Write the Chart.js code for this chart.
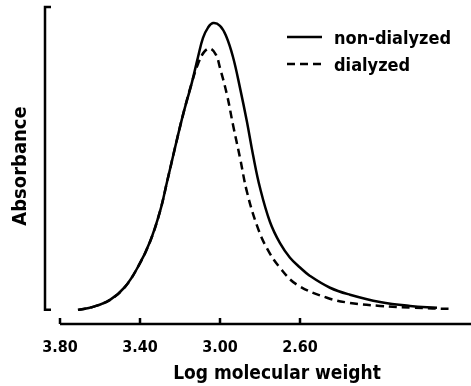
<!DOCTYPE html>
<html>
<head>
<meta charset="utf-8">
<script src="https://cdn.jsdelivr.net/npm/chart.js@4"></script>
<style>
  html, body { margin: 0; padding: 0; background: #fff; }
  #wrap { width: 471px; height: 386px; }
</style>
</head>
<body>
<div id="wrap"><canvas id="grafico"></canvas></div>
<script>
// datos (log peso molecular vs absorbancia relativa)
const logMW_noDial = [3.71, 3.635, 3.55, 3.475, 3.41, 3.35, 3.30, 3.265, 3.225, 3.185, 3.14, 3.11, 3.085, 3.06, 3.035, 3.00, 2.97, 2.935, 2.90, 2.865, 2.835, 2.80, 2.75, 2.70, 2.65, 2.60, 2.55, 2.45, 2.35, 2.20, 2.05, 1.915];
const abs_noDial   = [0, 1.0, 3.3, 7.6, 14.2, 22.5, 32.5, 42.2, 53.5, 64.4, 75.2, 83.5, 89.8, 93.2, 94.7, 93.8, 90.5, 83.5, 73.3, 62.0, 51.2, 40.3, 29.0, 22.0, 17.2, 14.0, 11.2, 7.3, 5.0, 2.6, 1.3, 0.7];

const logMW_dial = [3.71, 3.635, 3.55, 3.475, 3.41, 3.35, 3.30, 3.265, 3.225, 3.185, 3.14, 3.11, 3.08, 3.05, 3.02, 3.00, 2.965, 2.935, 2.90, 2.865, 2.815, 2.765, 2.70, 2.615, 2.465, 2.35, 2.20, 2.035, 1.84];
const abs_dial   = [0, 1.0, 3.3, 7.6, 14.2, 22.5, 32.5, 42.2, 53.5, 64.4, 75.2, 81.2, 85.1, 86.3, 84.2, 79.9, 71.0, 61.1, 50.2, 38.9, 27.8, 20.3, 13.9, 8.3, 4.0, 2.3, 1.3, 0.7, 0.3];

const tickLabels = [3.80, 3.40, 3.00, 2.60];
const etiquetas = ["non-dialyzed", "dialyzed"];

const FUENTE = "'DejaVu Sans Condensed', 'DejaVu Sans', sans-serif";

function pares(xs, ys) {
    return xs.map((x, i) => ({ x: x, y: ys[i] }));
}

// ejes dibujados a mano (estilo de la figura original)
const ejesPlugin = {
    id: 'ejes',
    afterDatasetsDraw(chart) {
        const { ctx, chartArea, scales } = chart;
        const xs = scales.x, ys = scales.y;
        ctx.save();
        ctx.strokeStyle = '#000';
        ctx.lineWidth = 2.5;
        ctx.lineCap = 'butt';

        // eje Y con pequeños remates, algo separado del eje X
        const xL = xs.getPixelForValue(3.875);
        const yTop = ys.getPixelForValue(100);
        const y0 = ys.getPixelForValue(0);
        ctx.beginPath();
        ctx.moveTo(xL + 6, yTop);
        ctx.lineTo(xL, yTop);
        ctx.lineTo(xL, y0);
        ctx.lineTo(xL + 6, y0);
        ctx.stroke();

        // eje X con marcas hacia arriba
        const yB = chartArea.bottom - 1;
        const xStart = xs.getPixelForValue(tickLabels[0]);
        ctx.beginPath();
        ctx.moveTo(xStart, yB);
        ctx.lineTo(chartArea.right, yB);
        ctx.stroke();
        ctx.beginPath();
        tickLabels.forEach(v => {
            const px = xs.getPixelForValue(v);
            ctx.moveTo(px, yB);
            ctx.lineTo(px, yB - 6);
        });
        ctx.stroke();

        // leyenda
        chart.data.datasets.forEach((ds, i) => {
            const ly = 37 + i * 27;
            ctx.setLineDash(ds.borderDash || []);
            ctx.beginPath();
            ctx.moveTo(287, ly);
            ctx.lineTo(322, ly);
            ctx.stroke();
            ctx.setLineDash([]);
            ctx.fillStyle = '#000';
            ctx.font = 'bold 18px ' + FUENTE;
            ctx.textBaseline = 'alphabetic';
            ctx.fillText(ds.label, 334, ly + 7);
        });
        ctx.restore();
    }
};

const ctx = document.getElementById('grafico').getContext('2d');

new Chart(ctx, {
    type: 'line',
    data: {
        datasets: [{
            label: etiquetas[0],
            data: pares(logMW_noDial, abs_noDial),
            borderColor: '#000',
            borderWidth: 2.5,
            pointRadius: 0,
            tension: 0.4,
            fill: false,
            clip: false
        }, {
            label: etiquetas[1],
            data: pares(logMW_dial, abs_dial),
            borderColor: '#000',
            borderWidth: 2.5,
            borderDash: [8, 5],
            pointRadius: 0,
            tension: 0.4,
            fill: false,
            clip: false
        }]
    },
    options: {
        responsive: true,
        maintainAspectRatio: false,
        animation: false,
        layout: { padding: { top: 7, right: 0, left: 0, bottom: 0 } },
        plugins: {
            legend: { display: false },
            tooltip: { enabled: false }
        },
        scales: {
            x: {
                type: 'linear',
                reverse: true,
                min: 1.745,
                max: 3.685,
                grid: { display: false, drawTicks: false },
                border: { display: false },
                afterBuildTicks: s => { s.ticks = tickLabels.map(v => ({ value: v })); },
                afterFit: s => { s.height = 61; },
                ticks: {
                    color: '#000',
                    padding: 13,
                    maxRotation: 0,
                    autoSkip: false,
                    font: { family: FUENTE, size: 16, weight: 'bold' },
                    callback: v => Number(v).toFixed(2)
                },
                title: {
                    display: true,
                    text: 'Log molecular weight',
                    color: '#000',
                    padding: { top: 0, bottom: 1 },
                    font: { family: FUENTE, size: 19, weight: 'bold' }
                }
            },
            y: {
                min: -5,
                max: 100,
                grid: { display: false, drawTicks: false },
                border: { display: false },
                ticks: { display: false },
                afterFit: s => { s.width = 83; },
                title: {
                    display: true,
                    text: 'Absorbance',
                    color: '#000',
                    padding: { top: 9, bottom: 0 },
                    font: { family: FUENTE, size: 20, weight: 'bold' }
                }
            }
        }
    },
    plugins: [ejesPlugin]
});
</script>
</body>
</html>
